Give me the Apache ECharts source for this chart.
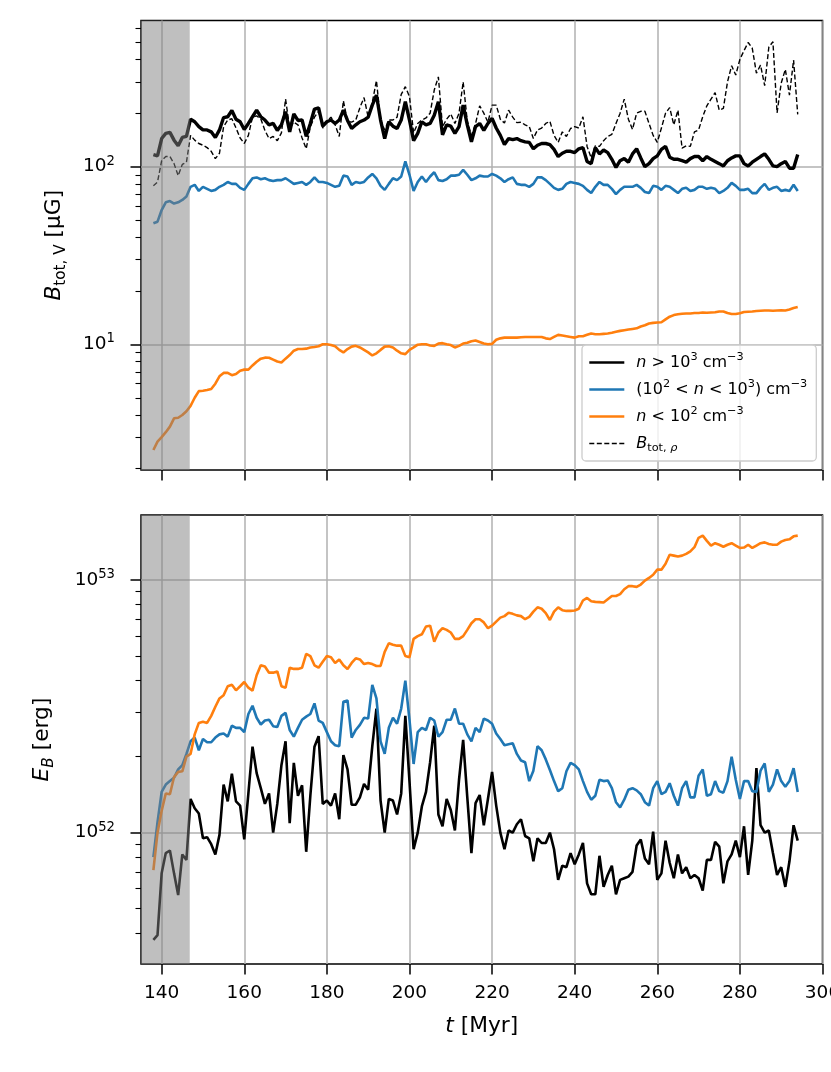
<!DOCTYPE html>
<html><head><meta charset="utf-8">
<script src="https://cdn.jsdelivr.net/npm/echarts@6/dist/echarts.min.js"></script>
<style>html,body{margin:0;padding:0;background:#fff}#c{width:831px;height:1072px}</style>
</head><body><div id="c"></div><script>
// ---------- data (t in Myr) ----------
const tMyr = [
 138,139,140,141,142,143,144,145,146,147,
 148,149,150,151,152,153,154,155,156,157,
 158,159,160,161,162,163,164,165,166,167,
 168,169,170,171,172,173,174,175,176,177,
 178,179,180,181,182,183,184,185,186,187,
 188,189,190,191,192,193,194,195,196,197,
 198,199,200,201,202,203,204,205,206,207,
 208,209,210,211,212,213,214,215,216,217,
 218,219,220,221,222,223,224,225,226,227,
 228,229,230,231,232,233,234,235,236,237,
 238,239,240,241,242,243,244,245,246,247,
 248,249,250,251,252,253,254,255,256,257,
 258,259,260,261,262,263,264,265,266,267,
 268,269,270,271,272,273,274,275,276,277,
 278,279,280,281,282,283,284,285,286,287,
 288,289,290,291,292,293,294];

// volume-weighted B_tot [uG]
const bDense = [
 117,115,144,154,156,141,131,146,148,185,
 179,168,161,161,157,146,161,189,191,207,
 185,179,162,175,191,208,191,183,172,175,
 160,172,204,157,198,182,183,148,175,211,
 214,169,179,183,175,183,208,182,164,172,
 179,183,190,222,253,183,144,179,169,164,
 183,232,183,140,154,179,172,175,195,232,
 151,172,169,154,168,222,172,138,168,175,
 160,175,187,165,150,133,144,142,144,140,
 138,137,126,132,135,135,133,125,114,119,
 122,122,120,126,128,107,104,128,118,124,
 120,110,99,108,111,106,118,126,112,100,
 104,111,115,125,130,113,110,110,108,106,
 111,114,114,108,114,110,107,104,101,108,
 112,115,115,104,101,106,110,114,118,110,
 101,100,104,107,98,98,117];
const bMid = [
 48,49,57,63,64,62,63,65,68,77,
 79,73,77,75,73,74,77,79,82,80,
 80,76,74,80,86,87,85,86,84,83,
 84,84,86,83,80,81,82,79,82,87,
 82,82,81,79,77,78,89,88,79,82,
 81,82,87,91,86,78,74,80,86,84,
 88,107,90,73,82,88,82,88,93,84,
 83,85,89,89,90,96,90,84,86,89,
 88,88,91,89,86,82,85,87,80,79,
 79,77,80,87,87,84,80,76,74,75,
 80,82,81,80,78,74,71,77,82,79,
 79,75,70,74,77,77,77,79,76,72,
 71,78,77,74,78,77,74,71,75,76,
 73,74,77,77,75,76,75,71,73,76,
 81,78,74,74,75,71,71,76,80,74,
 76,77,73,74,73,79,73];
const bDiffuse = [
 2.54,2.83,3.0,3.2,3.44,3.83,3.86,4.0,4.2,4.5,
 5.0,5.45,5.48,5.53,5.6,6.0,6.6,6.9,6.9,6.7,
 6.8,7.1,7.2,7.2,7.6,7.98,8.3,8.41,8.4,8.2,
 8.0,7.9,8.3,8.7,9.2,9.4,9.4,9.45,9.6,9.65,
 9.75,10.0,10.0,9.9,9.75,9.3,9.0,9.4,9.7,9.8,
 9.6,9.3,9.0,8.65,8.9,9.3,9.7,9.75,9.6,9.2,
 8.9,8.8,9.3,9.6,9.95,10.0,10.0,9.85,9.8,10.1,
 10.15,10.0,9.9,9.6,9.8,10.1,10.2,10.4,10.5,10.3,
 10.1,10.0,10.05,10.6,10.8,10.9,10.9,10.9,10.9,10.95,
 11.0,11.0,11.0,11.0,11.0,10.8,10.7,11.0,11.3,11.2,
 11.1,11.0,10.9,11.1,11.1,11.3,11.5,11.4,11.4,11.45,
 11.5,11.6,11.75,11.9,12.0,12.1,12.2,12.3,12.6,12.8,
 13.1,13.2,13.25,13.3,13.8,14.3,14.6,14.75,14.85,14.9,
 14.9,15.0,15.0,15.1,15.05,15.1,15.15,15.3,15.3,15.0,
 14.8,14.8,14.95,15.2,15.25,15.3,15.4,15.45,15.5,15.5,
 15.45,15.5,15.55,15.5,15.7,16.0,16.2];
// density-weighted B_tot,rho [uG]
const bRho = [
 78,82,108,114,114,104,89,103,106,150,
 141,135,132,128,122,111,119,168,183,186,
 165,145,135,150,190,193,186,160,144,148,
 140,155,240,165,178,172,145,126,168,190,
 205,165,180,190,172,148,235,180,178,183,
 215,245,190,230,305,183,161,183,183,190,
 255,282,248,155,175,183,188,200,270,320,
 168,185,198,175,200,300,180,150,175,220,
 200,178,222,222,185,176,208,190,177,178,
 172,168,144,161,165,175,180,150,137,157,
 148,164,168,165,191,130,112,131,130,140,
 148,152,175,200,240,185,162,200,205,205,
 175,150,137,165,200,215,172,208,127,131,
 130,157,161,191,220,240,261,208,213,300,
 370,328,402,450,500,464,336,373,286,470,
 505,201,295,353,253,398,197];

// magnetic energy E_B [erg]
const eDense = [
 3.76e51,3.93e51,6.9e51,8.3e51,8.5e51,6.9e51,5.66e51,8.2e51,7.8e51,1.36e52,
 1.25e52,1.19e52,9.5e51,9.6e51,9.0e51,8.2e51,9.8e51,1.55e52,1.33e52,1.71e52,
 1.33e52,1.28e52,9.4e51,1.43e52,2.19e52,1.72e52,1.5e52,1.3e52,1.43e52,1.0e52,
 1.3e52,1.85e52,2.3e52,1.09e52,1.89e52,1.4e52,1.54e52,8.4e51,1.4e52,2.19e52,
 2.41e52,1.3e52,1.34e52,1.28e52,1.43e52,1.13e52,2.03e52,1.78e52,1.29e52,1.29e52,
 1.38e52,1.56e52,1.48e52,2.2e52,3.1e52,1.34e52,1.0e52,1.36e52,1.34e52,1.18e52,
 1.43e52,2.9e52,1.6e52,8.6e51,1.0e52,1.27e52,1.45e52,1.9e52,2.65e52,1.18e52,
 1.06e52,1.36e52,1.23e52,1.02e52,1.62e52,2.33e52,1.38e52,8.3e51,1.31e52,1.41e52,
 1.07e52,1.36e52,1.74e52,1.28e52,1.0e52,8.6e51,1.02e52,1.0e52,1.08e52,1.13e52,
 9.7e51,9.5e51,7.7e51,9.5e51,9.1e51,9.1e51,1.0e52,8.6e51,6.5e51,7.4e51,
 7.3e51,8.3e51,7.5e51,8.2e51,9.1e51,6.3e51,5.7e51,5.7e51,8.1e51,6.1e51,
 6.8e51,7.4e51,5.7e51,6.5e51,6.6e51,6.7e51,7.0e51,8.9e51,9.4e51,7.9e51,
 7.5e51,1.01e52,6.5e51,6.9e51,9.3e51,7.6e51,6.6e51,8.2e51,6.9e51,7.3e51,
 6.6e51,6.8e51,6.6e51,5.9e51,7.8e51,7.8e51,9.2e51,8.8e51,6.3e51,7.7e51,
 8.2e51,9.3e51,8.0e51,1.06e52,6.8e51,9.3e51,1.8e52,1.07e52,1.0e52,1.02e52,
 8.3e51,6.8e51,7.3e51,6.1e51,7.7e51,1.07e52,9.3e51];
const eMid = [
 8.0e51,1.1e52,1.45e52,1.55e52,1.6e52,1.65e52,1.78e52,1.85e52,2.05e52,2.3e52,
 2.38e52,2.12e52,2.35e52,2.28e52,2.28e52,2.38e52,2.45e52,2.47e52,2.4e52,2.65e52,
 2.6e52,2.6e52,2.5e52,2.95e52,3.18e52,2.85e52,2.68e52,2.78e52,2.8e52,2.64e52,
 2.62e52,2.9e52,2.98e52,2.55e52,2.4e52,2.6e52,2.8e52,2.88e52,2.95e52,3.25e52,
 2.78e52,2.72e52,2.5e52,2.3e52,2.22e52,2.2e52,3.3e52,3.34e52,2.38e52,2.55e52,
 2.67e52,2.85e52,2.83e52,3.85e52,3.4e52,2.3e52,2.05e52,2.6e52,2.85e52,2.7e52,
 3.1e52,4.0e52,2.8e52,1.87e52,2.5e52,2.6e52,2.55e52,2.85e52,2.78e52,2.4e52,
 2.5e52,2.8e52,2.8e52,3.1e52,2.7e52,2.7e52,2.45e52,2.3e52,2.6e52,2.5e52,
 2.83e52,2.78e52,2.7e52,2.47e52,2.35e52,2.22e52,2.24e52,2.26e52,2.05e52,1.93e52,
 1.9e52,1.6e52,1.76e52,2.2e52,2.12e52,1.95e52,1.77e52,1.6e52,1.46e52,1.5e52,
 1.75e52,1.89e52,1.85e52,1.78e52,1.6e52,1.45e52,1.35e52,1.4e52,1.62e52,1.6e52,
 1.61e52,1.5e52,1.32e52,1.26e52,1.35e52,1.48e52,1.5e52,1.47e52,1.42e52,1.32e52,
 1.28e52,1.5e52,1.6e52,1.42e52,1.45e52,1.57e52,1.4e52,1.28e52,1.5e52,1.6e52,
 1.38e52,1.38e52,1.68e52,1.78e52,1.4e52,1.42e52,1.6e52,1.46e52,1.44e52,1.6e52,
 2.0e52,1.62e52,1.36e52,1.6e52,1.6e52,1.46e52,1.45e52,1.76e52,1.88e52,1.45e52,
 1.55e52,1.78e52,1.6e52,1.52e52,1.6e52,1.8e52,1.45e52];
const eDiffuse = [
 7.1e51,1.0e52,1.22e52,1.43e52,1.42e52,1.66e52,1.74e52,1.75e52,2.0e52,2.05e52,
 2.45e52,2.72e52,2.75e52,2.72e52,2.9e52,3.15e52,3.4e52,3.5e52,3.8e52,3.85e52,
 3.66e52,3.8e52,3.95e52,3.75e52,3.65e52,4.2e52,4.6e52,4.55e52,4.3e52,4.3e52,
 4.35e52,3.8e52,3.75e52,4.5e52,4.45e52,4.45e52,4.5e52,5.1e52,5.0e52,4.6e52,
 4.5e52,4.75e52,5.0e52,4.95e52,4.7e52,4.85e52,4.6e52,4.45e52,4.7e52,4.9e52,
 4.85e52,4.65e52,4.7e52,4.65e52,4.57e52,4.57e52,5.2e52,5.62e52,5.55e52,5.5e52,
 5.5e52,5.0e52,4.95e52,5.85e52,6.0e52,6.1e52,6.55e52,6.6e52,5.7e52,6.2e52,
 6.45e52,6.35e52,6.2e52,5.85e52,5.85e52,6.0e52,6.35e52,6.75e52,7.0e52,7.0e52,
 6.8e52,6.45e52,6.6e52,6.85e52,7.1e52,7.2e52,7.42e52,7.35e52,7.25e52,7.2e52,
 7.0e52,7.15e52,7.5e52,7.8e52,7.7e52,7.4e52,6.95e52,7.5e52,7.8e52,7.6e52,
 7.55e52,7.55e52,7.58e52,7.7e52,8.3e52,8.5e52,8.25e52,8.2e52,8.18e52,8.15e52,
 8.4e52,8.65e52,8.65e52,8.8e52,9.2e52,9.46e52,9.46e52,9.4e52,9.6e52,9.95e52,
 1.02e53,1.05e53,1.1e53,1.1e53,1.16e53,1.26e53,1.25e53,1.24e53,1.25e53,1.27e53,
 1.3e53,1.35e53,1.47e53,1.5e53,1.43e53,1.37e53,1.4e53,1.38e53,1.355e53,1.38e53,
 1.4e53,1.37e53,1.34e53,1.345e53,1.38e53,1.34e53,1.37e53,1.4e53,1.41e53,1.39e53,
 1.38e53,1.38e53,1.42e53,1.44e53,1.45e53,1.49e53,1.5e53];

// axes / ticks
const xRange = [135, 300];
const xTicks = [140,160,180,200,220,240,260,280,300];
const topRange = [1.96, 665];
const topMajor = [10, 100];
const topMinor = [2,3,4,5,6,7,8,9,20,30,40,50,60,70,80,90,200,300,400,500,600];
const botRange = [3.02e51, 1.81e53];
const botMajor = [1e52, 1e53];
const botMinor = [4e51,5e51,6e51,7e51,8e51,9e51,2e52,3e52,4e52,5e52,6e52,7e52,8e52,9e52];
const shadeSpan = [135, 146.8];

// ---------- chart ----------
const FONT = 'DejaVu Sans';
const L = Math.log10;
const pairs = ys => tMyr.map((t, i) => [t, ys[i]]);
const GRIDC = '#b0b0b0';
const tickRich = {
  b: {fontFamily: FONT, fontSize: 18.5, color: '#000', lineHeight: 24},
  p: {fontFamily: FONT, fontSize: 13.2, color: '#000', verticalAlign: 'top', lineHeight: 13.2}
};
const nameRich = {
  i: {fontFamily: FONT, fontSize: 21.75, fontStyle: 'italic', color: '#000', lineHeight: 30},
  r: {fontFamily: FONT, fontSize: 21.75, color: '#000', lineHeight: 30},
  s: {fontFamily: FONT, fontSize: 15.2, color: '#000', verticalAlign: 'bottom', lineHeight: 15.2},
  si: {fontFamily: FONT, fontSize: 15.2, fontStyle: 'italic', color: '#000', verticalAlign: 'bottom', lineHeight: 15.2}
};
const legRich = {
  i: {fontFamily: FONT, fontSize: 16, fontStyle: 'italic', color: '#000', lineHeight: 21},
  r: {fontFamily: FONT, fontSize: 16, color: '#000', lineHeight: 21},
  p: {fontFamily: FONT, fontSize: 11.3, color: '#000', verticalAlign: 'top', lineHeight: 11.3},
  s: {fontFamily: FONT, fontSize: 11.3, color: '#000', verticalAlign: 'bottom', lineHeight: 11.3},
  si: {fontFamily: FONT, fontSize: 11.3, fontStyle: 'italic', color: '#000', verticalAlign: 'bottom', lineHeight: 11.3}
};
const legText = {
  hiV: '{i|n}{r| > 10}{p|3}{r| cm}{p|\u22123}',
  midV: '{r|(10}{p|2}{r| < }{i|n}{r| < 10}{p|3}{r|) cm}{p|\u22123}',
  loV: '{i|n}{r| < 10}{p|2}{r| cm}{p|\u22123}',
  rhoV: '{i|B}{s|tot, }{si|\u03c1}'
};
const powFmt = v => '{b|10}{p|' + Math.round(v) + '}';

function xAxisDef(gi, labels) {
  return {
    type: 'value', gridIndex: gi, min: xRange[0], max: xRange[1],
    axisLine: {show: false},
    axisTick: {show: true, customValues: xTicks, length: 10.5, lineStyle: {color: '#000', width: 1.5}},
    axisLabel: labels ? {show: true, customValues: xTicks, margin: 20, fontFamily: FONT, fontSize: 18.5, color: '#000'} : {show: false},
    splitLine: {show: true, lineStyle: {color: GRIDC, width: 1.5}},
    name: labels ? '{i|t}{r| [Myr]}' : '',
    nameLocation: 'middle', nameGap: 47,
    nameTextStyle: {rich: nameRich}
  };
}
function yAxesDef(gi, range, major, minor, name, gap) {
  return [
    { // data axis (log scale)
      type: 'log', gridIndex: gi, min: range[0], max: range[1], position: 'left',
      axisLine: {show: false}, axisTick: {show: false}, axisLabel: {show: false}, splitLine: {show: false}
    },
    { // major ticks, labels, grid lines
      type: 'value', gridIndex: gi, min: L(range[0]), max: L(range[1]), position: 'left',
      axisLine: {show: false},
      axisTick: {show: true, customValues: major.map(L), length: 10.5, lineStyle: {color: '#000', width: 1.5}},
      axisLabel: {show: true, customValues: major.map(L), margin: 26, formatter: powFmt, rich: tickRich},
      splitLine: {show: true, lineStyle: {color: GRIDC, width: 1.5}},
      name: name, nameLocation: 'middle', nameGap: gap,
      nameTextStyle: {rich: nameRich}
    },
    { // minor ticks
      type: 'value', gridIndex: gi, min: L(range[0]), max: L(range[1]), position: 'left',
      axisLine: {show: false},
      axisTick: {show: true, customValues: minor.map(L), length: 5.5, lineStyle: {color: '#000', width: 1.1}},
      axisLabel: {show: false}, splitLine: {show: false}
    }
  ];
}
function line(name, xi, yi, data, color, width, type, z) {
  return {
    type: 'line', name: name, xAxisIndex: xi, yAxisIndex: yi, data: pairs(data),
    symbol: 'none', showSymbol: false, silent: true, z: z,
    lineStyle: {color: color, width: width, type: type || 'solid'},
    itemStyle: {color: color}
  };
}
const shade = {
  silent: true, z: 10,
  itemStyle: {color: 'rgba(128,128,128,0.5)'},
  label: {show: false},
  data: [[{xAxis: shadeSpan[0]}, {xAxis: shadeSpan[1]}]]
};

const sTopHi = line('hiV', 0, 0, bDense, '#000000', 3.4, null, 2);
const sTopMid = line('midV', 0, 0, bMid, '#1f77b4', 2.6, null, 3);
const sTopLo = line('loV', 0, 0, bDiffuse, '#ff7f0e', 2.6, null, 4);
const sTopRho = line('rhoV', 0, 0, bRho, '#000000', 1.4, [5, 2.5], 5);
sTopRho.markArea = shade;
const sBotHi = line('hiE', 1, 3, eDense, '#000000', 2.6, null, 2);
const sBotMid = line('midE', 1, 3, eMid, '#1f77b4', 2.6, null, 3);
const sBotLo = line('loE', 1, 3, eDiffuse, '#ff7f0e', 2.6, null, 4);
sBotLo.markArea = shade;

const chart = echarts.init(document.getElementById('c'), null, {renderer: 'canvas'});
chart.setOption({
  animation: false,
  backgroundColor: '#ffffff',
  textStyle: {fontFamily: FONT},
  grid: [
    {left: 141, top: 20.5, width: 681.5, height: 449.5, show: true, borderColor: '#000', borderWidth: 1.5, backgroundColor: 'transparent', containLabel: false, outerBoundsMode: 'none'},
    {left: 141, top: 515, width: 681.5, height: 449, show: true, borderColor: '#000', borderWidth: 1.5, backgroundColor: 'transparent', containLabel: false, outerBoundsMode: 'none'}
  ],
  xAxis: [xAxisDef(0, false), xAxisDef(1, true)],
  yAxis: [
    ...yAxesDef(0, topRange, topMajor, topMinor, '{i|B}{s|tot, V}{r| [\u03bcG]}', 72),
    ...yAxesDef(1, botRange, botMajor, botMinor, '{i|E}{si|B}{r| [erg]}', 84)
  ],
  legend: {
    show: true, orient: 'vertical', left: 582, top: 345,
    data: [
      {name: 'hiV', lineStyle: {width: 2.6}},
      {name: 'midV', lineStyle: {width: 2.6}},
      {name: 'loV', lineStyle: {width: 2.6}},
      {name: 'rhoV', lineStyle: {width: 1.4}}
    ],
    formatter: n => legText[n],
    itemWidth: 35, itemHeight: 14, itemGap: 6,
    padding: [7, 9, 7, 6],
    itemStyle: {opacity: 0},
    lineStyle: {width: 'inherit'},
    backgroundColor: 'rgba(255,255,255,0.8)',
    borderColor: '#cccccc', borderWidth: 1.3, borderRadius: 4,
    selectedMode: false,
    textStyle: {fontFamily: FONT, fontSize: 16, color: '#000', lineHeight: 21, padding: [0, 0, 0, 7], rich: legRich}
  },
  series: [sTopHi, sTopMid, sTopLo, sTopRho, sBotHi, sBotMid, sBotLo]
});
</script></body></html>
